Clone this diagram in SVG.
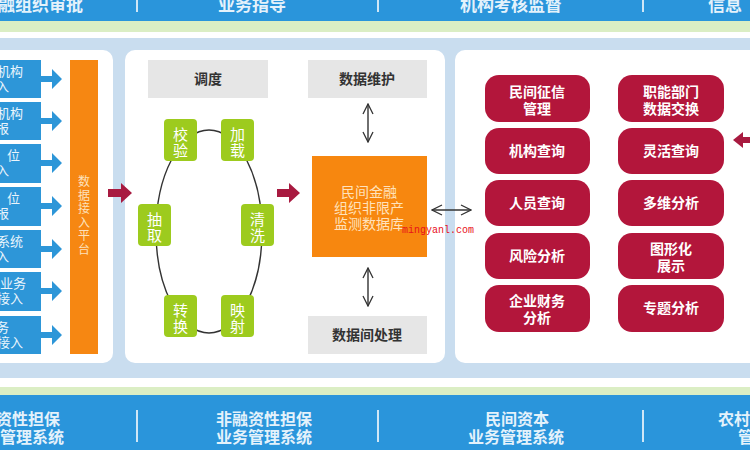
<svg xmlns="http://www.w3.org/2000/svg" width="750" height="450" viewBox="0 0 750 450">
<defs>
<style>
.bar{fill:#2a95db}
.bartxt{font-family:"Noto Sans CJK SC","Liberation Sans",sans-serif;font-size:17px;fill:#e4f2fb;font-weight:bold}
.div{stroke:#cfe6f6;stroke-width:2}
.panel{fill:#ffffff}
.lbox{fill:#2d96d8}
.ltxt{font-family:"Noto Sans CJK SC","Liberation Sans",sans-serif;font-size:13px;fill:#eaf5fc}
.gray{fill:#e6e6e6}
.gtxt{font-family:"Noto Sans CJK SC","Liberation Sans",sans-serif;font-size:14px;fill:#333;font-weight:bold;text-anchor:middle}
.green{fill:#9dcb1e}
.grtxt{font-family:"Noto Sans CJK SC","Liberation Sans",sans-serif;font-size:15px;fill:#ffffff;text-anchor:middle}
.pill{fill:#b3163b}
.ptxt{font-family:"Noto Sans CJK SC","Liberation Sans",sans-serif;font-size:14px;fill:#ffffff;text-anchor:middle;font-weight:bold}
.ln{stroke:#333;stroke-width:1.4;fill:none}
.red{fill:#a81a40}
</style>
<marker id="oa" viewBox="0 0 12 12" refX="11" refY="6" markerWidth="12" markerHeight="12" markerUnits="userSpaceOnUse" orient="auto-start-reverse">
<path d="M1,1 L11,6 L1,11" fill="none" stroke="#333" stroke-width="1.3"/>
</marker>
</defs>

<!-- backgrounds -->
<rect x="0" y="0" width="750" height="450" fill="#ffffff"/>
<rect class="bar" x="0" y="0" width="750" height="21"/>
<rect x="0" y="21" width="750" height="11" fill="#dbeec4"/>
<rect x="0" y="38" width="750" height="340" fill="#c9ddef"/>
<rect x="0" y="387" width="750" height="8" fill="#dbeec4"/>
<rect class="bar" x="0" y="395" width="750" height="55"/>

<g id="top-bar">
<text class="bartxt" x="-2" y="11">融组织审批</text>
<line class="div" x1="137" y1="0" x2="137" y2="12"/>
<text class="bartxt" x="252" y="11" text-anchor="middle">业务指导</text>
<line class="div" x1="378" y1="0" x2="378" y2="12"/>
<text class="bartxt" x="511" y="11" text-anchor="middle">机构考核监督</text>
<line class="div" x1="643" y1="0" x2="643" y2="12"/>
<text class="bartxt" x="708" y="11">信息</text>
</g>

<g id="bottom-bar">
<text class="bartxt" x="-4" y="425" style="font-size:16px">资性担保</text>
<text class="bartxt" x="0" y="443" style="font-size:16px">管理系统</text>
<line class="div" x1="137" y1="410" x2="137" y2="442"/>
<text class="bartxt" x="264" y="425" text-anchor="middle" style="font-size:16px">非融资性担保</text>
<text class="bartxt" x="264" y="443" text-anchor="middle" style="font-size:16px">业务管理系统</text>
<line class="div" x1="378" y1="410" x2="378" y2="442"/>
<text class="bartxt" x="517" y="425" text-anchor="middle" style="font-size:16px">民间资本</text>
<text class="bartxt" x="516" y="443" text-anchor="middle" style="font-size:16px">业务管理系统</text>
<line class="div" x1="643" y1="410" x2="643" y2="442"/>
<text class="bartxt" x="718" y="425" style="font-size:16px">农村</text>
<text class="bartxt" x="738" y="443" style="font-size:16px">管</text>
</g>

<!-- panels -->
<rect class="panel" x="-12" y="50" width="125" height="313" rx="10"/>
<rect class="panel" x="125" y="50" width="320" height="313" rx="10"/>
<rect class="panel" x="455" y="50" width="310" height="313" rx="10"/>

<g id="left-sources">
<rect class="lbox" x="0" y="60" width="41" height="38"/>
<text class="ltxt" x="-3" y="76">机构</text><text class="ltxt" x="-4" y="91">入</text>
<rect class="lbox" x="0" y="102" width="41" height="38"/>
<text class="ltxt" x="-3" y="118">机构</text><text class="ltxt" x="-4" y="133">报</text>
<rect class="lbox" x="0" y="144" width="41" height="39"/>
<text class="ltxt" x="7" y="160">位</text><text class="ltxt" x="-4" y="175">入</text>
<rect class="lbox" x="0" y="187" width="41" height="39"/>
<text class="ltxt" x="7" y="203">位</text><text class="ltxt" x="-4" y="218">报</text>
<rect class="lbox" x="0" y="230" width="41" height="38"/>
<text class="ltxt" x="-3" y="246">系统</text><text class="ltxt" x="-4" y="261">入</text>
<rect class="lbox" x="0" y="272" width="41" height="39"/>
<text class="ltxt" x="0" y="288">业务</text><text class="ltxt" x="-3" y="303">接入</text>
<rect class="lbox" x="0" y="316" width="41" height="38"/>
<text class="ltxt" x="-4" y="332">务</text><text class="ltxt" x="-3" y="347">接入</text>
</g>

<g id="data-access-platform">
<rect x="70" y="60" width="28" height="294" fill="#f68712"/>
<text x="84" y="186" font-family="Noto Sans CJK SC, Liberation Sans, sans-serif" font-size="12" fill="#fde2bd" text-anchor="middle">
<tspan x="84">数</tspan><tspan x="84" dy="13.5">据</tspan><tspan x="84" dy="13.5">接</tspan><tspan x="84" dy="13.5">入</tspan><tspan x="84" dy="13.5">平</tspan><tspan x="84" dy="13.5">台</tspan>
</text>
</g>

<g id="schedule"><rect class="gray" x="148" y="60" width="120" height="38"/><text class="gtxt" x="208" y="84">调度</text></g>
<g id="maintenance"><rect class="gray" x="308" y="60" width="119" height="38"/><text class="gtxt" x="367" y="84">数据维护</text></g>
<g id="processing"><rect class="gray" x="308" y="316" width="119" height="38"/><text class="gtxt" x="367" y="340">数据间处理</text></g>

<g id="connectors">
<g fill="#2d96d8">
<path d="M41,76 h11 v-7 l10,10 l-10,10 v-7 h-11z"/>
<path d="M41,118 h11 v-7 l10,10 l-10,10 v-7 h-11z"/>
<path d="M41,160 h11 v-7 l10,10 l-10,10 v-7 h-11z"/>
<path d="M41,203 h11 v-7 l10,10 l-10,10 v-7 h-11z"/>
<path d="M41,246 h11 v-7 l10,10 l-10,10 v-7 h-11z"/>
<path d="M41,288 h11 v-7 l10,10 l-10,10 v-7 h-11z"/>
<path d="M41,332 h11 v-7 l10,10 l-10,10 v-7 h-11z"/>
</g>
<path class="red" d="M108,189 h13 v-6 l11,10 l-11,10 v-6 h-13z"/>
<path class="red" d="M277,189 h12 v-6 l11,10 l-11,10 v-6 h-12z"/>
<path class="red" d="M750,137 h-7 v-5 l-10,8 l10,8 v-5 h7z"/>
<ellipse class="ln" cx="209" cy="231.5" rx="53" ry="101.5"/>
<line class="ln" x1="368" y1="104" x2="368" y2="142" marker-start="url(#oa)" marker-end="url(#oa)"/>
<line class="ln" x1="368" y1="268" x2="368" y2="306" marker-start="url(#oa)" marker-end="url(#oa)"/>
<line class="ln" x1="432" y1="210" x2="471" y2="210" marker-start="url(#oa)" marker-end="url(#oa)"/>
</g>

<g id="etl-steps">
<g id="n-jiaoyan"><rect class="green" x="164" y="119" width="33" height="42" rx="4"/><text class="grtxt" x="180.5" y="140">校</text><text class="grtxt" x="180.5" y="156">验</text></g>
<g id="n-jiazai"><rect class="green" x="221" y="119" width="33" height="42" rx="4"/><text class="grtxt" x="237.5" y="140">加</text><text class="grtxt" x="237.5" y="156">载</text></g>
<g id="n-chouqu"><rect class="green" x="138" y="204" width="33" height="42" rx="4"/><text class="grtxt" x="154.5" y="225">抽</text><text class="grtxt" x="154.5" y="241">取</text></g>
<g id="n-qingxi"><rect class="green" x="241" y="204" width="33" height="42" rx="4"/><text class="grtxt" x="257.5" y="225">清</text><text class="grtxt" x="257.5" y="241">洗</text></g>
<g id="n-zhuanhuan"><rect class="green" x="164" y="295" width="33" height="42" rx="4"/><text class="grtxt" x="180.5" y="316">转</text><text class="grtxt" x="180.5" y="332">换</text></g>
<g id="n-yingshe"><rect class="green" x="221" y="295" width="33" height="42" rx="4"/><text class="grtxt" x="237.5" y="316">映</text><text class="grtxt" x="237.5" y="332">射</text></g>
</g>

<g id="database">
<rect x="312" y="156" width="115" height="101" fill="#f7870f"/>
<text x="369" y="197" font-family="Noto Sans CJK SC, Liberation Sans, sans-serif" font-size="14" fill="#ffe2bc" text-anchor="middle">民间金融</text>
<text x="369" y="213" font-family="Noto Sans CJK SC, Liberation Sans, sans-serif" font-size="14" fill="#ffe2bc" text-anchor="middle">组织非限产</text>
<text x="369" y="229" font-family="Noto Sans CJK SC, Liberation Sans, sans-serif" font-size="14" fill="#ffe2bc" text-anchor="middle">监测数据库</text>
</g>

<g id="applications">
<g id="a1"><rect class="pill" x="485" y="75" width="105" height="47" rx="14"/><text class="ptxt" x="537" y="97">民间征信</text><text class="ptxt" x="537" y="114">管理</text></g>
<g id="a2"><rect class="pill" x="485" y="128" width="105" height="46" rx="14"/><text class="ptxt" x="537" y="156">机构查询</text></g>
<g id="a3"><rect class="pill" x="485" y="180" width="105" height="46" rx="14"/><text class="ptxt" x="537" y="208">人员查询</text></g>
<g id="a4"><rect class="pill" x="485" y="233" width="105" height="46" rx="14"/><text class="ptxt" x="537" y="261">风险分析</text></g>
<g id="a5"><rect class="pill" x="485" y="285" width="105" height="47" rx="14"/><text class="ptxt" x="537" y="306">企业财务</text><text class="ptxt" x="537" y="323">分析</text></g>
<g id="b1"><rect class="pill" x="618" y="75" width="106" height="47" rx="14"/><text class="ptxt" x="671" y="97">职能部门</text><text class="ptxt" x="671" y="114">数据交换</text></g>
<g id="b2"><rect class="pill" x="618" y="128" width="106" height="46" rx="14"/><text class="ptxt" x="671" y="156">灵活查询</text></g>
<g id="b3"><rect class="pill" x="618" y="180" width="106" height="46" rx="14"/><text class="ptxt" x="671" y="208">多维分析</text></g>
<g id="b4"><rect class="pill" x="618" y="233" width="106" height="46" rx="14"/><text class="ptxt" x="671" y="254">图形化</text><text class="ptxt" x="671" y="271">展示</text></g>
<g id="b5"><rect class="pill" x="618" y="285" width="106" height="47" rx="14"/><text class="ptxt" x="671" y="313">专题分析</text></g>
</g>

<text x="402" y="233" font-family="Liberation Mono, monospace" font-size="10" fill="#e8101a">mingyanl.com</text>
</svg>
